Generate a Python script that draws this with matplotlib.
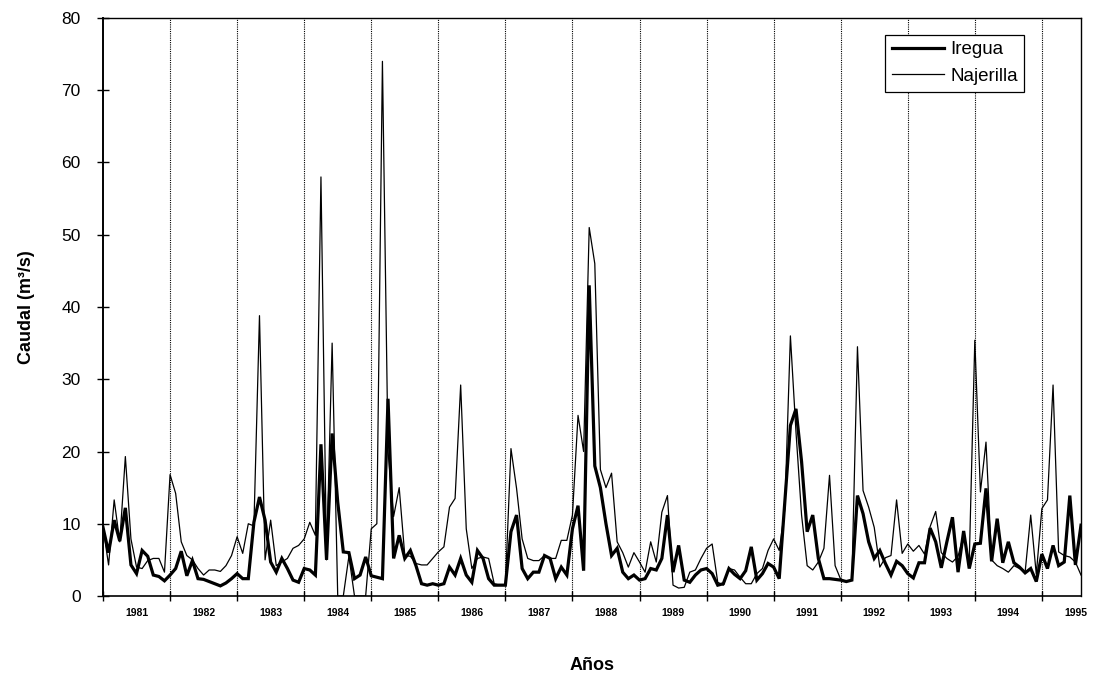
import matplotlib
matplotlib.use('Agg')
import matplotlib.pyplot as plt

plt.rcParams['font.family'] = ['Liberation Sans', 'DejaVu Sans']

years = [str(y) for y in range(1981, 1996)]

iregua = (
    [9.5, 6.0, 10.5, 7.6, 12.2, 4.3, 3.1, 6.3, 5.5, 2.9, 2.7, 2.1] +      # 1981
    [2.9, 3.8, 6.2, 2.8, 4.9, 2.4, 2.3, 2.0, 1.7, 1.4, 1.8, 2.4] +        # 1982
    [3.1, 2.4, 2.4, 10.2, 13.7, 10.5, 4.7, 3.3, 5.2, 3.8, 2.2, 1.9] +     # 1983
    [3.8, 3.6, 2.9, 21.0, 5.0, 22.5, 13.0, 6.1, 6.0, 2.4, 2.9, 5.4] +     # 1984
    [2.8, 2.6, 2.4, 27.3, 5.2, 8.4, 5.2, 6.3, 4.2, 1.7, 1.5, 1.7] +       # 1985
    [1.5, 1.7, 4.0, 2.9, 5.2, 2.9, 1.9, 6.3, 5.2, 2.4, 1.5, 1.5] +        # 1986
    [1.5, 8.9, 11.2, 3.8, 2.4, 3.3, 3.3, 5.6, 5.2, 2.4, 4.0, 2.9] +       # 1987
    [9.3, 12.5, 3.5, 43.0, 18.0, 15.0, 10.0, 5.6, 6.6, 3.3, 2.4, 2.9] +   # 1988
    [2.2, 2.4, 3.8, 3.6, 5.2, 11.2, 3.3, 7.0, 2.2, 1.9, 2.9, 3.6] +       # 1989
    [3.8, 3.1, 1.5, 1.7, 3.8, 3.0, 2.4, 3.5, 6.8, 2.2, 3.1, 4.5] +        # 1990
    [4.0, 2.4, 13.0, 23.6, 25.9, 18.6, 8.9, 11.2, 5.2, 2.4, 2.4, 2.3] +   # 1991
    [2.2, 2.0, 2.2, 13.9, 11.4, 7.5, 5.2, 6.3, 4.5, 2.9, 4.8, 4.2] +      # 1992
    [3.1, 2.5, 4.6, 4.6, 9.4, 7.5, 3.9, 7.5, 10.9, 3.3, 9.0, 3.8] +       # 1993
    [7.2, 7.3, 14.9, 4.8, 10.7, 4.6, 7.5, 4.6, 4.0, 3.2, 3.8, 2.0] +      # 1994
    [5.8, 3.8, 7.0, 4.2, 4.7, 13.9, 4.3, 9.8]                             # 1995
)

najerilla = (
    [9.5, 4.3, 13.3, 7.5, 19.3, 7.9, 4.0, 3.8, 4.9, 5.2, 5.2, 3.3] +      # 1981
    [16.8, 14.2, 7.5, 5.6, 5.0, 3.8, 2.9, 3.6, 3.6, 3.4, 4.2, 5.6] +      # 1982
    [8.2, 5.9, 10.0, 9.7, 38.8, 5.0, 10.5, 4.2, 4.7, 5.2, 6.6, 7.0] +     # 1983
    [7.9, 10.2, 8.4, 58.0, 5.0, 35.0, 0.0, 0.0, 5.5, 0.0, 0.0, 0.0] +     # 1984
    [9.3, 10.0, 74.0, 20.0, 11.0, 15.0, 5.6, 5.5, 4.5, 4.3, 4.3, 5.2] +   # 1985
    [6.1, 6.8, 12.3, 13.5, 29.2, 9.3, 3.8, 5.2, 5.4, 5.2, 1.7, 1.5] +     # 1986
    [1.5, 20.4, 14.9, 7.9, 5.2, 4.9, 4.9, 5.6, 5.2, 5.2, 7.7, 7.7] +      # 1987
    [11.2, 25.0, 20.0, 51.0, 46.0, 17.5, 15.0, 17.0, 7.5, 6.0, 4.0, 6.0] +  # 1988
    [4.7, 3.3, 7.5, 4.7, 11.6, 13.9, 1.5, 1.1, 1.2, 3.3, 3.6, 5.2] +      # 1989
    [6.6, 7.2, 1.9, 1.5, 3.8, 3.6, 2.6, 1.7, 1.7, 3.1, 3.8, 6.3] +        # 1990
    [7.9, 6.3, 12.0, 36.0, 22.7, 11.2, 4.2, 3.6, 4.7, 6.6, 16.7, 4.2] +   # 1991
    [2.3, 2.0, 2.2, 34.5, 14.6, 12.3, 9.5, 4.0, 5.3, 5.6, 13.3, 5.9] +    # 1992
    [7.2, 6.2, 7.0, 5.8, 9.6, 11.7, 6.0, 5.2, 4.7, 5.5, 8.5, 4.7] +       # 1993
    [35.4, 14.4, 21.3, 5.0, 4.2, 3.8, 3.3, 4.2, 3.8, 3.3, 11.2, 3.0] +    # 1994
    [12.1, 13.3, 29.2, 6.1, 5.6, 5.4, 4.7, 2.9]                           # 1995
)

months = list(range(len(iregua)))
year_bounds = [12 * k for k in range(1, len(years))]
year_mids = [12 * k + 6 for k in range(len(years))]

W, H = 1093, 683
fig = plt.figure(figsize=(W / 100, H / 100), dpi=100)
ax = fig.add_axes([103 / W, (H - 596) / H, 978 / W, 578 / H])

for b in year_bounds:
    ax.axvline(b, color='black', lw=0.8, ls=(0, (1, 1)), zorder=1)

ax.plot(months, najerilla, color='black', lw=0.9, label='Najerilla', zorder=2)
ax.plot(months, iregua, color='black', lw=2.3, label='Iregua', zorder=3,
        solid_joinstyle='miter')

ax.set_xlim(0, len(iregua) - 1)
ax.set_ylim(0, 80)
ax.set_yticks(range(0, 81, 10))
ax.tick_params(axis='y', direction='inout', length=8, width=1, labelsize=12.5, pad=12)

ax.set_xticks([0] + year_bounds)
ax.set_xticklabels([])
ax.tick_params(axis='x', which='major', direction='inout', length=7, width=1)
ax.set_xticks(year_mids, minor=True)
ax.set_xticklabels(years, minor=True, fontsize=7.5, fontweight='bold')
ax.tick_params(axis='x', which='minor', length=0, pad=9)

for s in ax.spines.values():
    s.set_linewidth(1.0)
ax.spines['left'].set_linewidth(1.4)
ax.spines['bottom'].set_linewidth(1.2)

ax.set_ylabel('Caudal (m³/s)', fontsize=13, fontweight='bold')
ax.yaxis.set_label_coords((35 - 103) / 978, 0.5)
ax.set_xlabel('Años', fontsize=13, fontweight='bold')
ax.xaxis.set_label_coords(0.5, -(665 - 596) / 578)
ax.xaxis.label.set_va('center')

handles, labels = ax.get_legend_handles_labels()
leg = ax.legend(handles[::-1], labels[::-1], loc='upper right',
                bbox_to_anchor=(0.942, 0.971), borderaxespad=0,
                fancybox=False, edgecolor='black', framealpha=1,
                fontsize=13.5, handlelength=2.8, handletextpad=0.3,
                borderpad=0.35, labelspacing=0.5)
leg.get_frame().set_linewidth(0.9)

fig.savefig('out.png', dpi=100)
